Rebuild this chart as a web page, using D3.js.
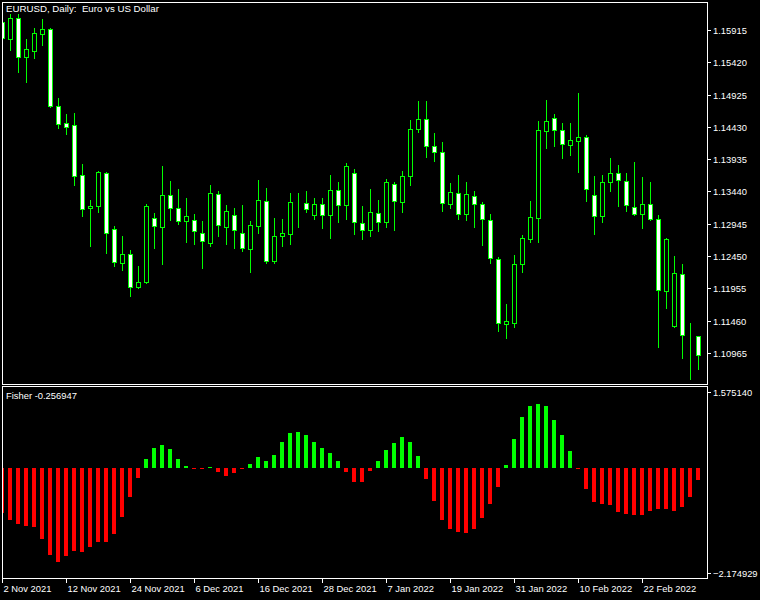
<!DOCTYPE html>
<html><head><meta charset="utf-8">
<script src="https://cdn.jsdelivr.net/npm/d3@7"></script>
<style>
html,body{margin:0;padding:0;background:#000;}
svg{display:block;}
text{font-family:"Liberation Sans",Arial,sans-serif;fill:#fff;}
</style></head>
<body>
<svg id="chart" width="760" height="600"></svg>
<script>
const dates = [
"2021-11-02","2021-11-03","2021-11-04","2021-11-05","2021-11-08","2021-11-09","2021-11-10","2021-11-11","2021-11-12","2021-11-15",
"2021-11-16","2021-11-17","2021-11-18","2021-11-19","2021-11-22","2021-11-23","2021-11-24","2021-11-25","2021-11-26","2021-11-29",
"2021-11-30","2021-12-01","2021-12-02","2021-12-03","2021-12-06","2021-12-07","2021-12-08","2021-12-09","2021-12-10","2021-12-13",
"2021-12-14","2021-12-15","2021-12-16","2021-12-17","2021-12-20","2021-12-21","2021-12-22","2021-12-23","2021-12-24","2021-12-27",
"2021-12-28","2021-12-29","2021-12-30","2021-12-31","2022-01-03","2022-01-04","2022-01-05","2022-01-06","2022-01-07","2022-01-10",
"2022-01-11","2022-01-12","2022-01-13","2022-01-14","2022-01-17","2022-01-18","2022-01-19","2022-01-20","2022-01-21","2022-01-24",
"2022-01-25","2022-01-26","2022-01-27","2022-01-28","2022-01-31","2022-02-01","2022-02-02","2022-02-03","2022-02-04","2022-02-07",
"2022-02-08","2022-02-09","2022-02-10","2022-02-11","2022-02-14","2022-02-15","2022-02-16","2022-02-17","2022-02-18","2022-02-21",
"2022-02-22","2022-02-23","2022-02-24","2022-02-25","2022-02-28","2022-03-01","2022-03-02","2022-03-03"];

const open = [1.16033,1.15783,1.16105,1.15507,1.15593,1.15860,1.15936,1.14749,1.14483,1.14453,
1.13686,1.13184,1.13214,1.13716,1.12872,1.12346,1.12489,1.11978,1.12048,1.13036,
1.12898,1.13394,1.13194,1.12990,1.13010,1.12806,1.12653,1.13409,1.12898,1.13082,
1.12806,1.12561,1.12914,1.13297,1.12377,1.12760,1.12791,1.13265,1.13267,1.13076,
1.13251,1.13076,1.13466,1.13236,1.13727,1.12960,1.12852,1.13113,1.12975,1.13558,
1.13282,1.13681,1.14402,1.14545,1.14141,1.14049,1.13251,1.13420,1.13098,1.13374,
1.13251,1.13010,1.12407,1.11410,1.11425,1.12331,1.12714,1.13036,1.14371,1.14560,
1.14387,1.14157,1.14218,1.14279,1.13389,1.13067,1.13589,1.13727,1.13604,1.13205,
1.13098,1.13251,1.13021,1.11916,1.11379,1.12177,1.11232,1.11226];

const high = [1.16094,1.16156,1.16156,1.15772,1.15941,1.16079,1.15952,1.14878,1.14621,1.14637,
1.13854,1.13317,1.13751,1.13736,1.12908,1.12754,1.12550,1.12305,1.13256,1.13113,
1.13828,1.13598,1.13471,1.13333,1.13102,1.12984,1.13547,1.13455,1.13240,1.13194,
1.13240,1.12995,1.13609,1.13486,1.13041,1.13026,1.13420,1.13420,1.13440,1.13348,
1.13333,1.13686,1.13593,1.13870,1.13778,1.13225,1.13471,1.13317,1.13635,1.13589,
1.13747,1.14529,1.14821,1.14821,1.14341,1.14203,1.13573,1.13686,1.13593,1.13455,
1.13282,1.13098,1.12432,1.11721,1.12473,1.12776,1.13302,1.14514,1.14836,1.14621,
1.14483,1.14483,1.14944,1.14310,1.13681,1.13696,1.13957,1.13850,1.13727,1.13896,
1.13666,1.13589,1.13082,1.12730,1.12453,1.12331,1.11425,1.11230];

const low = [1.15757,1.15608,1.15271,1.15117,1.15485,1.15685,1.14737,1.14407,1.14315,1.13547,
1.13072,1.12611,1.13122,1.12499,1.12294,1.12243,1.11844,1.11956,1.12036,1.12570,
1.12335,1.13010,1.12938,1.12662,1.12642,1.12263,1.12611,1.12765,1.12642,1.12581,
1.12524,1.12202,1.12806,1.12340,1.12340,1.12601,1.12631,1.12892,1.13122,1.13015,
1.12877,1.12723,1.12969,1.13015,1.12785,1.12714,1.12754,1.12831,1.12892,1.12846,
1.13122,1.13543,1.14356,1.13972,1.13905,1.13138,1.13184,1.13015,1.13000,1.12892,
1.12616,1.12346,1.11296,1.11195,1.11364,1.12208,1.12662,1.12662,1.14111,1.14141,
1.13957,1.14003,1.13742,1.13297,1.12785,1.12975,1.13451,1.13221,1.13144,1.13087,
1.12883,1.13006,1.11057,1.11655,1.11369,1.10888,1.10566,1.10720];

const close = [1.15788,1.16105,1.15507,1.15630,1.15864,1.15936,1.14749,1.14479,1.14433,1.13675,
1.13175,1.13225,1.13736,1.12806,1.12355,1.12489,1.11978,1.12059,1.13225,1.12908,
1.13394,1.13184,1.12990,1.13072,1.12837,1.12684,1.13420,1.12929,1.13144,1.12857,
1.12570,1.12929,1.13313,1.12377,1.12760,1.12806,1.13282,1.13268,1.13175,1.13251,
1.13076,1.13466,1.13236,1.13834,1.12975,1.12852,1.13129,1.12975,1.13589,1.13297,
1.13681,1.14402,1.14545,1.14141,1.14049,1.13267,1.13435,1.13098,1.13405,1.13251,
1.13021,1.12423,1.11425,1.11456,1.12331,1.12730,1.13052,1.14387,1.14514,1.14387,
1.14172,1.14233,1.14279,1.13481,1.13067,1.13589,1.13727,1.13620,1.13236,1.13098,
1.13251,1.13021,1.11932,1.12714,1.12193,1.11241,1.11229,1.10934];

const fisher = [-0.934,-1.073,-1.163,-1.198,-1.213,-1.468,-1.800,-1.939,-1.815,-1.717,
-1.738,-1.634,-1.530,-1.525,-1.364,-1.011,-0.596,-0.201,0.193,0.422,
0.484,0.401,0.193,0.048,-0.015,-0.015,0.015,-0.077,-0.160,-0.098,
-0.020,0.089,0.235,0.152,0.276,0.546,0.733,0.754,0.691,0.546,
0.422,0.318,0.152,-0.077,-0.284,-0.284,-0.056,0.152,0.380,0.525,
0.650,0.546,0.255,-0.222,-0.679,-1.073,-1.260,-1.323,-1.343,-1.260,
-1.032,-0.741,-0.388,0.069,0.608,1.065,1.294,1.335,1.294,1.003,
0.691,0.359,-0.020,-0.430,-0.700,-0.741,-0.762,-0.907,-0.949,-0.970,
-0.970,-0.887,-0.845,-0.845,-0.887,-0.804,-0.596,-0.256947];

const priceTicks = [1.15915,1.15420,1.14925,1.14430,1.13935,1.13440,1.12945,1.12450,1.11955,1.11460,1.10965];
const fisherTicks = [1.575140,-2.174929];
const dateTicks = ["2021-11-02","2021-11-12","2021-11-24","2021-12-06","2021-12-16","2021-12-28","2022-01-07","2022-01-19","2022-01-31","2022-02-10","2022-02-22"];
const dateTickLabels = ["2 Nov 2021","12 Nov 2021","24 Nov 2021","6 Dec 2021","16 Dec 2021","28 Dec 2021","7 Jan 2022","19 Jan 2022","31 Jan 2022","10 Feb 2022","22 Feb 2022"];
const titleText = "EURUSD, Daily:  Euro vs US Dollar";
const fisherLabel = "Fisher -0.256947";

const svg = d3.select("#chart");
svg.append("rect").attr("width",760).attr("height",600).attr("fill","#000");

const x = d3.scalePoint().domain(dates).range([2.5, 698.5]);
const y = d3.scaleLinear().domain([1.10965, 1.15915]).rangeRound([353, 30]);
const yF = d3.scaleLinear().domain([-2.174929, 1.575140]).rangeRound([573, 392]);

const defs = svg.append("defs");
defs.append("clipPath").attr("id","clipMain").append("rect").attr("x",3).attr("y",3).attr("width",704).attr("height",381);
defs.append("clipPath").attr("id","clipSub").append("rect").attr("x",3).attr("y",387).attr("width",704).attr("height",191);

const FS = "9.4px";
const GREEN = "#00ff00";

// candles
const candles = dates.map((d,i)=>({d, o:open[i], h:high[i], l:low[i], c:close[i]}));
const gMain = svg.append("g").attr("clip-path","url(#clipMain)");
gMain.selectAll("line.wick").data(candles).join("line")
  .attr("x1", d=>x(d.d)).attr("x2", d=>x(d.d))
  .attr("y1", d=>y(d.h)).attr("y2", d=>y(d.l)+1)
  .attr("stroke", GREEN).attr("stroke-width",1).attr("shape-rendering","crispEdges");
gMain.selectAll("rect.body").data(candles).join("rect")
  .attr("x", d=>x(d.d)-2)
  .attr("y", d=>Math.min(y(d.o),y(d.c))+0.5)
  .attr("width", 4)
  .attr("height", d=>Math.abs(y(d.o)-y(d.c)))
  .attr("fill", d=>d.c>d.o ? "#000" : "#fff")
  .attr("stroke", GREEN).attr("stroke-width",1).attr("shape-rendering","crispEdges");

// fisher histogram
const gSub = svg.append("g").attr("clip-path","url(#clipSub)");
const zero = yF(0);
gSub.selectAll("rect.bar").data(dates.map((d,i)=>({d, v:fisher[i]}))).join("rect")
  .attr("x", d=>x(d.d)-2.5)
  .attr("width", 4)
  .attr("y", d=> d.v>=0 ? Math.min(yF(d.v), zero-1) : zero)
  .attr("height", d=> Math.max(1, Math.abs(yF(d.v)-zero)))
  .attr("fill", d=> d.v>=0 ? GREEN : "#ff0000")
  .attr("shape-rendering","crispEdges");

// borders
svg.append("rect").attr("x",2.5).attr("y",2.5).attr("width",705).attr("height",382)
  .attr("fill","none").attr("stroke","#fff").attr("stroke-width",1);
svg.append("rect").attr("x",2.5).attr("y",386.5).attr("width",705).attr("height",192)
  .attr("fill","none").attr("stroke","#fff").attr("stroke-width",1);

// price axis
const axP = svg.append("g").attr("transform","translate(707,0.5)")
  .call(d3.axisRight(y).tickValues(priceTicks).tickFormat(d3.format(".5f")).tickSize(4).tickPadding(2).offset(0));
const axF = svg.append("g").attr("transform","translate(707,0.5)")
  .call(d3.axisRight(yF).tickValues(fisherTicks).tickFormat(d3.format(".6f")).tickSize(4).tickPadding(2).offset(0));
const axX = svg.append("g").attr("transform","translate(0,578)")
  .call(d3.axisBottom(x).tickValues(dateTicks).tickFormat((d,i)=>dateTickLabels[i]).tickSize(5).offset(0));
[axP,axF,axX].forEach(g=>{
  g.select(".domain").remove();
  g.selectAll("line").attr("stroke","#fff").attr("shape-rendering","crispEdges");
  g.selectAll("text").attr("fill","#fff").style("font-size",FS).style("font-family",'"Liberation Sans",Arial,sans-serif');
});
axX.selectAll("text").attr("text-anchor","start").attr("x",1).attr("dy",null).attr("y",13.5);
axP.selectAll("text").attr("dy","0.34em");
axF.selectAll("text").attr("dy","0.34em");

// labels
svg.append("text").attr("x",6).attr("y",12).style("white-space","pre").style("font-size","9.7px").text(titleText);
svg.append("text").attr("x",6).attr("y",399).style("font-size",FS).text(fisherLabel);
</script>
</body></html>
